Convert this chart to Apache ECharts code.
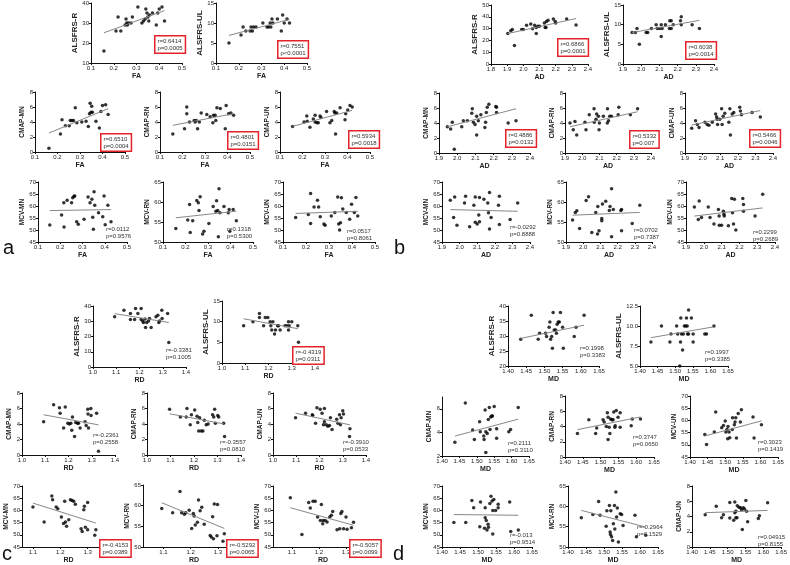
<!DOCTYPE html>
<html>
<head>
<meta charset="utf-8">
<script src="https://cdn.jsdelivr.net/npm/echarts@6/dist/echarts.min.js"></script>
<style>
  html, body { margin: 0; padding: 0; background: #fff; }
  #chart { width: 790px; height: 565px; }
</style>
</head>
<body>
<div id="chart"></div>
<script>
// ---- tick labels ----
const faTicks = [0.1, 0.2, 0.3, 0.4, 0.5]
const adTicksLong = [1.8, 1.9, 2.0, 2.1, 2.2, 2.3, 2.4]
const adTicks = [1.9, 2.0, 2.1, 2.2, 2.3, 2.4]
const rdTicks = [1.0, 1.1, 1.2, 1.3, 1.4]
const rdTicksShort = [1.1, 1.2, 1.3, 1.4]
const mdTicks = [1.40, 1.45, 1.50, 1.55, 1.60, 1.65]
const alsfrsRTicks = [10, 20, 30, 40]
const alsfrsRTicks0 = [0, 10, 20, 30, 40]
const alsfrsRTicks50 = [0, 10, 20, 30, 40, 50]
const alsfrsRTicks20 = [20, 25, 30, 35, 40]
const ulTicks = [0, 5, 10, 15]
const ulTicksMd = [5.0, 7.5, 10.0, 12.5]
const cmapTicks = [0, 2, 4, 6, 8]
const cmapTicksMd = [2, 4, 6]
const mcvTicks = [45, 50, 55, 60, 65, 70]
const mcvTicksRN = [50, 55, 60, 65]

// ---- panel a : FA ----
const faAlsfrsR = [[0.157,16],[0.21,26],[0.219,33],[0.231,26],[0.25,29],[0.254,32],[0.257,30],[0.26,29],[0.265,30],[0.276,30],[0.282,33],[0.306,38],[0.324,30],[0.331,31],[0.338,32],[0.341,37],[0.346,35],[0.35,33],[0.354,31],[0.357,34],[0.37,35],[0.387,29],[0.393,35],[0.4,37],[0.412,38],[0.423,31]]
const faAlsfrsRFit = [[0.157,25.1],[0.423,36.2]]
const faAlsfrsUL = [[0.157,5],[0.21,7],[0.219,9],[0.231,8],[0.25,8],[0.254,9],[0.26,8],[0.265,9],[0.276,9],[0.306,10],[0.324,9],[0.331,9],[0.338,10],[0.341,9],[0.346,11],[0.35,10],[0.37,11],[0.387,8],[0.393,12],[0.4,10],[0.412,11],[0.423,10]]
const faAlsfrsULFit = [[0.157,6.9],[0.423,10.9]]
const faCmapMN = [[0.162,0.5],[0.213,2.4],[0.22,4.3],[0.235,3.5],[0.252,3.5],[0.257,4.2],[0.264,4.2],[0.271,4.2],[0.279,5.9],[0.286,3.9],[0.308,4.0],[0.327,4.1],[0.337,3.4],[0.342,5.1],[0.345,6.5],[0.349,5.3],[0.352,6.1],[0.355,5.3],[0.371,4.1],[0.386,3.2],[0.393,5.4],[0.4,6.2],[0.414,6.3],[0.425,5.0]]
const faCmapMNFit = [[0.162,2.53],[0.425,5.78]]
const faCmapRN = [[0.157,2.4],[0.209,3.1],[0.219,6.0],[0.219,5.1],[0.231,4.0],[0.252,4.2],[0.256,4.0],[0.261,4.2],[0.267,3.1],[0.275,4.0],[0.283,5.2],[0.308,5.0],[0.323,4.7],[0.335,3.9],[0.338,4.9],[0.345,4.9],[0.348,4.2],[0.353,5.9],[0.368,5.8],[0.39,3.1],[0.394,6.2],[0.405,5.1],[0.415,5.2],[0.427,4.9]]
const faCmapRNFit = [[0.157,3.56],[0.427,5.11]]
const faCmapUN = [[0.156,3.4],[0.207,4.0],[0.219,4.8],[0.221,4.1],[0.233,3.3],[0.248,4.4],[0.256,4.9],[0.256,4.0],[0.264,3.9],[0.27,3.9],[0.278,4.8],[0.282,4.6],[0.307,5.4],[0.322,3.9],[0.33,4.2],[0.341,5.4],[0.344,5.2],[0.347,2.4],[0.352,5.2],[0.367,5.9],[0.389,4.3],[0.392,5.1],[0.401,5.6],[0.411,6.2],[0.421,6.0]]
const faCmapUNFit = [[0.156,3.42],[0.421,5.55]]
const faMcvMN = [[0.153,52.1],[0.206,56.2],[0.216,61.4],[0.217,51.3],[0.231,62.4],[0.251,61.4],[0.256,63.4],[0.262,64.1],[0.265,64.2],[0.274,53.4],[0.281,52.4],[0.307,54.5],[0.325,63.8],[0.334,61.4],[0.342,62.8],[0.346,55.3],[0.349,50.3],[0.352,65.9],[0.355,60.3],[0.372,57.2],[0.391,55.5],[0.397,64.2],[0.402,52.2],[0.414,60.3],[0.428,53.4]]
const faMcvMNFit = [[0.153,58.1],[0.428,58.5]]
const faMcvRN = [[0.157,53.4],[0.21,55.5],[0.218,59.4],[0.221,52.4],[0.232,55.3],[0.25,60.4],[0.257,59.8],[0.26,57.9],[0.265,61.3],[0.276,52.0],[0.282,52.7],[0.304,54.6],[0.323,58.9],[0.335,57.7],[0.338,60.3],[0.343,57.9],[0.346,51.3],[0.349,63.3],[0.353,57.3],[0.371,58.9],[0.39,57.3],[0.394,58.1],[0.397,52.7],[0.412,58.1],[0.426,55.3]]
const faMcvRNFit = [[0.157,56.05],[0.426,57.7]]
const faMcvUN = [[0.155,55.2],[0.21,56.5],[0.22,65.2],[0.22,52.7],[0.235,59.6],[0.25,62.4],[0.255,59.6],[0.262,55.5],[0.278,52.5],[0.283,52.0],[0.31,55.8],[0.325,57.3],[0.338,63.8],[0.342,52.5],[0.346,50.0],[0.35,53.0],[0.354,63.4],[0.36,58.7],[0.375,57.3],[0.39,54.5],[0.398,60.7],[0.41,57.3],[0.417,63.5],[0.425,55.8]]
const faMcvUNFit = [[0.155,56.9],[0.425,57.8]]

// ---- panel b : AD ----
const adAlsfrsR = [[1.904,25.8],[1.922,28.1],[1.932,29.2],[1.945,15.7],[1.99,29.2],[2.0,29.2],[2.02,32.9],[2.046,34],[2.057,29.8],[2.07,32.9],[2.08,25.8],[2.08,30.9],[2.09,32],[2.1,32],[2.13,34.8],[2.135,30.9],[2.14,30.9],[2.143,36],[2.153,37],[2.186,38.2],[2.197,36],[2.2,34.8],[2.268,38.2],[2.326,33.1]]
const adAlsfrsRFit = [[1.904,25.8],[2.326,38.5]]
const adAlsfrsUL = [[1.95,8],[1.968,8],[1.977,9],[1.99,5],[2.027,8],[2.036,8],[2.056,9],[2.082,10],[2.088,9],[2.1,9],[2.11,7],[2.11,10],[2.115,9],[2.133,10],[2.155,9],[2.157,11],[2.165,11],[2.165,9],[2.176,10],[2.216,11],[2.22,12],[2.22,10],[2.28,10],[2.32,9]]
const adAlsfrsULFit = [[1.95,8.0],[2.32,11.1]]
const adCmapMN = [[1.946,3.5],[1.964,3.2],[1.973,4.1],[1.984,0.5],[2.025,3.5],[2.034,4.3],[2.056,4.3],[2.08,5.3],[2.083,5.9],[2.089,4.1],[2.098,3.8],[2.107,4.9],[2.107,2.4],[2.116,4.3],[2.13,5.1],[2.152,3.4],[2.156,4.1],[2.16,5.4],[2.165,6.1],[2.174,6.5],[2.212,6.2],[2.216,6.1],[2.216,5.4],[2.28,4.0],[2.323,4.3]]
const adCmapMNFit = [[1.946,3.5],[2.323,5.9]]
const adCmapRN = [[1.929,4.0],[1.948,3.1],[1.958,4.2],[1.968,2.4],[2.016,4.1],[2.022,3.1],[2.041,5.1],[2.069,5.9],[2.07,4.1],[2.08,4.5],[2.084,5.2],[2.094,4.9],[2.098,3.1],[2.1,4.0],[2.123,4.9],[2.146,4.0],[2.147,5.9],[2.153,4.3],[2.16,4.9],[2.17,4.9],[2.209,5.1],[2.213,6.1],[2.28,5.1],[2.322,5.9]]
const adCmapRNFit = [[1.929,3.5],[2.322,5.5]]
const adCmapUN = [[1.938,3.3],[1.96,4.3],[1.97,3.8],[1.98,3.4],[2.013,4.1],[2.026,3.8],[2.036,3.7],[2.055,4.1],[2.074,5.2],[2.08,4.8],[2.083,4.5],[2.085,3.8],[2.098,4.5],[2.108,5.9],[2.111,3.8],[2.117,4.9],[2.126,5.3],[2.149,4.1],[2.155,5.9],[2.158,2.4],[2.168,5.2],[2.177,5.4],[2.211,6.1],[2.215,5.6],[2.221,5.1],[2.281,5.4],[2.328,4.8]]
const adCmapUNFit = [[1.938,3.73],[2.328,5.66]]
const adMcvMN = [[1.947,62.4],[1.966,55.2],[1.972,63.8],[1.985,52.0],[2.028,61.3],[2.034,64.1],[2.057,51.4],[2.081,60.3],[2.089,63.8],[2.089,53.2],[2.1,52.5],[2.109,56.2],[2.113,63.5],[2.113,53.4],[2.138,62.8],[2.16,61.3],[2.164,57.2],[2.17,65.6],[2.17,50.4],[2.179,55.2],[2.221,60.3],[2.226,64.1],[2.226,52.3],[2.287,54.4],[2.33,61.3]]
const adMcvMNFit = [[1.947,58.5],[2.33,57.8]]
const adMcvRN = [[1.938,55.5],[1.954,57.4],[1.963,57.8],[1.979,53.4],[2.017,60.4],[2.031,61.3],[2.05,52.4],[2.073,57.4],[2.083,52.0],[2.085,58.9],[2.092,52.8],[2.108,55.9],[2.108,55.3],[2.112,59.5],[2.131,60.2],[2.152,57.9],[2.156,58.9],[2.165,63.3],[2.165,51.3],[2.175,58.1],[2.219,57.9],[2.223,58.1],[2.223,52.8],[2.285,54.6],[2.329,59.2]]
const adMcvRNFit = [[1.938,56.7],[2.329,57.4]]
const adMcvUN = [[1.947,59.6],[1.969,54.4],[1.974,62.1],[1.987,55.2],[2.025,59.6],[2.035,55.2],[2.057,52.5],[2.082,58.5],[2.086,55.8],[2.087,52.0],[2.1,52.0],[2.11,57.8],[2.113,56.6],[2.115,55.8],[2.138,51.8],[2.157,63.1],[2.161,57.2],[2.167,52.5],[2.172,62.8],[2.18,50.0],[2.219,63.1],[2.223,60.6],[2.223,57.8],[2.288,55.8],[2.331,64.9]]
const adMcvUNFit = [[1.947,55.8],[2.331,59.2]]

// ---- panel c : RD ----
const rdAlsfrsR = [[1.093,32.9],[1.133,37.2],[1.161,35.1],[1.161,31.1],[1.179,31.1],[1.183,38.3],[1.193,35.1],[1.207,38.3],[1.207,31.1],[1.214,30.1],[1.217,29.2],[1.224,31.4],[1.226,25.9],[1.231,29.2],[1.239,30.1],[1.243,31.8],[1.25,25.9],[1.271,32.9],[1.279,34.0],[1.283,29.2],[1.286,30.1],[1.296,37.2],[1.297,31.8],[1.321,35.1],[1.326,16.0]]
const rdAlsfrsRFit = [[1.093,35.0],[1.326,29.2]]
const rdAlsfrsUL = [[1.093,9],[1.133,10],[1.161,11],[1.161,12],[1.179,9],[1.186,11],[1.197,11],[1.207,10],[1.21,9],[1.214,8],[1.219,10],[1.226,7],[1.23,8],[1.239,9],[1.243,9],[1.25,8],[1.271,9],[1.279,9],[1.286,10],[1.286,8],[1.289,9],[1.3,10],[1.326,9],[1.329,5]]
const rdAlsfrsULFit = [[1.093,10.7],[1.326,8.3]]
const rdCmapMN = [[1.093,4.3],[1.136,6.5],[1.161,6.1],[1.164,5.4],[1.179,3.5],[1.186,6.2],[1.197,4.1],[1.204,4.0],[1.21,4.1],[1.214,3.2],[1.217,4.9],[1.226,2.4],[1.231,4.2],[1.239,4.1],[1.243,4.1],[1.25,3.5],[1.271,4.3],[1.276,3.8],[1.283,5.9],[1.284,5.3],[1.286,3.5],[1.296,6.0],[1.297,5.1],[1.321,5.4],[1.329,0.5]]
const rdCmapMNFit = [[1.093,5.19],[1.329,3.89]]
const rdCmapRN = [[1.096,5.9],[1.142,4.9],[1.167,4.9],[1.17,6.0],[1.184,3.9],[1.189,5.2],[1.203,5.8],[1.213,5.0],[1.216,4.2],[1.22,3.1],[1.224,4.8],[1.231,3.1],[1.238,3.1],[1.244,4.5],[1.252,3.9],[1.26,4.0],[1.279,5.2],[1.284,4.9],[1.288,5.9],[1.291,4.1],[1.301,5.1],[1.305,4.9],[1.326,4.1],[1.33,2.4]]
const rdCmapRNFit = [[1.096,5.32],[1.326,4.02]]
const rdCmapUN = [[1.097,4.8],[1.14,5.4],[1.169,5.2],[1.171,5.1],[1.183,4.1],[1.189,6.1],[1.203,5.9],[1.211,5.4],[1.217,3.9],[1.221,6.0],[1.221,4.3],[1.229,3.9],[1.236,3.7],[1.243,3.8],[1.247,4.8],[1.254,3.3],[1.274,4.6],[1.279,4.1],[1.286,5.2],[1.29,3.9],[1.293,4.8],[1.3,5.7],[1.303,5.3],[1.329,2.4],[1.331,3.4]]
const rdCmapUNFit = [[1.097,5.4],[1.331,3.89]]
const rdMcvMN = [[1.1,61.4],[1.141,55.2],[1.169,65.9],[1.172,64.4],[1.185,61.4],[1.191,60.7],[1.204,57.3],[1.212,54.6],[1.216,63.7],[1.219,55.2],[1.223,53.5],[1.231,56.2],[1.237,64.4],[1.243,64.1],[1.249,63.7],[1.255,62.5],[1.276,52.5],[1.28,51.4],[1.286,60.3],[1.288,61.7],[1.292,53.1],[1.3,63.2],[1.3,52.1],[1.326,49.8],[1.33,52.1]]
const rdMcvMNFit = [[1.1,63.0],[1.33,54.8]]
const rdMcvRN = [[1.094,59.3],[1.134,58.3],[1.161,63.4],[1.167,58.3],[1.177,57.9],[1.182,58.3],[1.195,58.9],[1.204,54.5],[1.21,58.1],[1.213,57.5],[1.217,55.3],[1.225,56.0],[1.229,61.4],[1.235,58.8],[1.241,59.6],[1.25,55.5],[1.272,52.8],[1.276,52.4],[1.281,57.3],[1.284,52.0],[1.287,60.4],[1.297,52.7],[1.299,60.3],[1.319,51.4],[1.324,53.2]]
const rdMcvRNFit = [[1.094,60.7],[1.324,54.5]]
const rdMcvUN = [[1.094,65.2],[1.137,50.1],[1.162,63.2],[1.168,61.0],[1.178,63.7],[1.186,63.7],[1.195,57.3],[1.205,55.9],[1.209,62.4],[1.214,54.5],[1.215,55.9],[1.223,55.9],[1.23,55.2],[1.24,57.3],[1.246,58.0],[1.251,59.6],[1.267,52.1],[1.277,52.5],[1.281,58.7],[1.285,59.6],[1.291,52.5],[1.3,57.3],[1.304,52.3],[1.32,52.9],[1.328,55.1]]
const rdMcvUNFit = [[1.094,61.1],[1.328,53.9]]

// ---- panel d : MD ----
const mdAlsfrsR = [[1.435,28.9],[1.464,36.9],[1.483,28.9],[1.487,30.9],[1.503,30.9],[1.506,29.8],[1.513,32.9],[1.515,34.7],[1.517,28.9],[1.52,29.8],[1.522,25.9],[1.524,37.8],[1.527,32.0],[1.531,32.0],[1.533,30.9],[1.535,33.9],[1.538,34.7],[1.541,34.7],[1.544,37.8],[1.55,32.9],[1.552,25.9],[1.582,29.8],[1.587,32.9],[1.609,36.9]]
const mdAlsfrsRFit = [[1.435,29.2],[1.609,33.6]]
const mdAlsfrsUL = [[1.431,8],[1.461,10],[1.485,8],[1.488,9],[1.504,10],[1.507,9],[1.513,5],[1.515,8],[1.516,11],[1.518,9],[1.521,7],[1.523,9],[1.526,10],[1.53,10],[1.532,11],[1.534,10],[1.535,9],[1.538,9],[1.538,12],[1.546,11],[1.551,9],[1.551,8],[1.584,9],[1.589,9],[1.61,10]]
const mdAlsfrsULFit = [[1.431,8.54],[1.61,9.9]]
const mdCmapMN = [[1.437,3.16],[1.467,6.5],[1.488,4.2],[1.493,3.4],[1.508,4.9],[1.51,4.05],[1.52,3.7],[1.521,3.4],[1.524,5.9],[1.526,4.05],[1.526,2.3],[1.53,3.9],[1.533,5.1],[1.536,6.1],[1.538,4.25],[1.54,5.3],[1.543,5.4],[1.545,5.4],[1.55,6.2],[1.557,4.3],[1.557,3.5],[1.592,4.05],[1.597,4.25],[1.619,6.1]]
const mdCmapMNFit = [[1.437,3.69],[1.619,5.12]]
const mdCmapRN = [[1.435,3.07],[1.467,4.9],[1.486,3.07],[1.489,3.8],[1.507,4.9],[1.51,4.6],[1.516,4.0],[1.519,5.8],[1.521,5.2],[1.521,2.3],[1.524,3.9],[1.526,3.07],[1.528,5.0],[1.532,4.9],[1.535,4.9],[1.537,5.9],[1.54,3.9],[1.541,4.1],[1.544,6.1],[1.549,5.2],[1.555,5.8],[1.555,3.9],[1.586,4.1],[1.589,5.0],[1.612,5.0]]
const mdCmapRNFit = [[1.435,3.59],[1.612,5.25]]
const mdMcvUN = [[1.442,54.2],[1.447,50.1],[1.469,55.2],[1.473,63.4],[1.49,57.0],[1.495,57.9],[1.5,59.8],[1.502,55.2],[1.505,56.3],[1.507,52.5],[1.508,57.5],[1.511,55.2],[1.513,52.9],[1.52,56.3],[1.521,61.1],[1.526,58.2],[1.528,59.3],[1.53,61.1],[1.532,52.8],[1.537,62.8],[1.543,59.3],[1.546,64.4],[1.579,61.4],[1.582,52.8],[1.603,58.2]]
const mdMcvUNFit = [[1.442,53.6],[1.603,59.8]]
const mdMcvMN = [[1.433,55.0],[1.466,55.0],[1.483,64.1],[1.488,61.1],[1.505,53.3],[1.507,63.4],[1.518,52.7],[1.52,61.1],[1.52,57.0],[1.523,55.9],[1.525,52.0],[1.528,54.3],[1.529,53.1],[1.533,62.8],[1.536,65.8],[1.539,63.9],[1.541,60.0],[1.541,50.3],[1.544,64.5],[1.549,60.0],[1.556,62.5],[1.556,61.1],[1.588,63.4],[1.591,51.4],[1.612,52.0]]
const mdMcvMNFit = [[1.433,58.3],[1.612,58.0]]
const mdMcvRN = [[1.437,57.2],[1.469,58.0],[1.485,61.2],[1.489,57.8],[1.506,55.1],[1.508,58.9],[1.515,60.2],[1.517,53.7],[1.518,53.1],[1.519,58.9],[1.521,52.5],[1.524,51.6],[1.526,55.7],[1.529,60.2],[1.53,54.4],[1.533,63.5],[1.535,57.4],[1.537,59.6],[1.54,51.2],[1.545,58.2],[1.549,58.0],[1.553,55.3],[1.586,57.8],[1.59,52.5],[1.616,52.9]]
const mdMcvRNFit = [[1.437,59.0],[1.616,54.9]]
const mdCmapUN = [[1.437,4.24],[1.468,5.34],[1.483,3.85],[1.488,4.24],[1.506,5.83],[1.506,3.8],[1.517,3.5],[1.52,5.9],[1.52,4.5],[1.523,4.7],[1.523,3.85],[1.526,3.85],[1.527,5.4],[1.532,5.2],[1.536,5.15],[1.539,4.9],[1.541,2.3],[1.544,5.15],[1.547,5.0],[1.551,6.1],[1.553,4.7],[1.556,3.3],[1.586,3.75],[1.589,4.1],[1.612,5.8]]
const mdCmapUNFit = [[1.437,4.5],[1.612,4.8]]

// ---- layout: one entry per small plot ----
const RED = '#e3222a'
const plots = [
  // panel a
  { rect: [91, 2, 91, 61], x: faTicks, y: alsfrsRTicks, xName: 'FA', yName: 'ALSFRS-R', big: true, data: faAlsfrsR, fit: faAlsfrsRFit, stat: 'r=0.6414\np=0.0005', at: [154, 35], box: true },
  { rect: [216, 2, 91, 61], x: faTicks, y: ulTicks, xName: 'FA', yName: 'ALSFRS-UL', big: true, data: faAlsfrsUL, fit: faAlsfrsULFit, stat: 'r=0.7551\np<0.0001', at: [277, 40], box: true },
  { rect: [35, 92, 90, 60], x: faTicks, y: cmapTicks, xName: 'FA', yName: 'CMAP-MN', data: faCmapMN, fit: faCmapMNFit, stat: 'r=0.6510\np=0.0004', at: [100, 133], box: true },
  { rect: [160, 92, 90, 60], x: faTicks, y: cmapTicks, xName: 'FA', yName: 'CMAP-RN', data: faCmapRN, fit: faCmapRNFit, stat: 'r=0.4801\np=0.0151', at: [227, 131], box: true },
  { rect: [280, 92, 90, 60], x: faTicks, y: cmapTicks, xName: 'FA', yName: 'CMAP-UN', data: faCmapUN, fit: faCmapUNFit, stat: 'r=0.5934\np=0.0018', at: [348, 130], box: true },
  { rect: [38, 182, 89, 60], x: faTicks, y: mcvTicks, xName: 'FA', yName: 'MCV-MN', data: faMcvMN, fit: faMcvMNFit, stat: 'r=0.0112\np=0.9576', at: [106, 226] },
  { rect: [163, 182, 90, 60], x: faTicks, y: mcvTicksRN, xName: 'FA', yName: 'MCV-RN', data: faMcvRN, fit: faMcvRNFit, stat: 'r=0.1318\np=0.5300', at: [227, 226] },
  { rect: [283, 182, 92, 60], x: faTicks, y: mcvTicks, xName: 'FA', yName: 'MCV-UN', data: faMcvUN, fit: faMcvUNFit, stat: 'r=0.0517\np=0.8061', at: [347, 228] },
  // panel b
  { rect: [491, 5, 97, 59], x: adTicksLong, y: alsfrsRTicks50, xName: 'AD', yName: 'ALSFRS-R', big: true, data: adAlsfrsR, fit: adAlsfrsRFit, stat: 'r=0.6866\np=0.0001', at: [557, 38], box: true },
  { rect: [623, 5, 91, 59], x: adTicks, y: ulTicks, xName: 'AD', yName: 'ALSFRS-UL', big: true, data: adAlsfrsUL, fit: adAlsfrsULFit, stat: 'r=0.6038\np=0.0014', at: [685, 41], box: true },
  { rect: [439, 93, 91, 60], x: adTicks, y: cmapTicks, xName: 'AD', yName: 'CMAP-MN', data: adCmapMN, fit: adCmapMNFit, stat: 'r=0.4886\np=0.0132', at: [505, 129], box: true },
  { rect: [565, 93, 86, 60], x: adTicks, y: cmapTicks, xName: 'AD', yName: 'CMAP-RN', data: adCmapRN, fit: adCmapRNFit, stat: 'r=0.5332\np=0.007', at: [629, 130], box: true },
  { rect: [685, 93, 88, 60], x: adTicks, y: cmapTicks, xName: 'AD', yName: 'CMAP-UN', data: adCmapUN, fit: adCmapUNFit, stat: 'r=0.5466\np=0.0046', at: [749, 129], box: true },
  { rect: [442, 182, 88, 60], x: adTicks, y: mcvTicks, xName: 'AD', yName: 'MCV-MN', data: adMcvMN, fit: adMcvMNFit, stat: 'r=-0.0292\np=0.8888', at: [510, 224] },
  { rect: [566, 182, 86, 60], x: adTicks, y: mcvTicksRN, xName: 'AD', yName: 'MCV-RN', data: adMcvRN, fit: adMcvRNFit, stat: 'r=0.0702\np=0.7387', at: [634, 227] },
  { rect: [686, 182, 89, 60], x: adTicks, y: mcvTicks, xName: 'AD', yName: 'MCV-UN', data: adMcvUN, fit: adMcvUNFit, stat: 'r=0.2299\np=0.2689', at: [753, 229] },
  // panel c
  { rect: [93, 306, 93, 61], x: rdTicks, y: alsfrsRTicks0, xName: 'RD', yName: 'ALSFRS-R', big: true, data: rdAlsfrsR, fit: rdAlsfrsRFit, stat: 'r=-0.3381\np=0.1005', at: [166, 347] },
  { rect: [222, 301, 93, 62], x: rdTicks, y: ulTicks, xName: 'RD', yName: 'ALSFRS-UL', big: true, data: rdAlsfrsUL, fit: rdAlsfrsULFit, stat: 'r=-0.4319\np=0.0311', at: [292, 346], box: true },
  { rect: [22, 393, 93, 62], x: rdTicks, y: cmapTicks, xName: 'RD', yName: 'CMAP-MN', data: rdCmapMN, fit: rdCmapMNFit, stat: 'r=-0.2361\np=0.2558', at: [93, 432] },
  { rect: [147, 393, 94, 62], x: rdTicks, y: cmapTicks, xName: 'RD', yName: 'CMAP-RN', data: rdCmapRN, fit: rdCmapRNFit, stat: 'r=-0.3557\np=0.0810', at: [220, 439] },
  { rect: [273, 393, 93, 62], x: rdTicks, y: cmapTicks, xName: 'RD', yName: 'CMAP-UN', data: rdCmapUN, fit: rdCmapUNFit, stat: 'r=-0.3910\np=0.0533', at: [343, 439] },
  { rect: [22, 486, 93, 61], x: rdTicksShort, xMin: 1.06, y: mcvTicks, xName: 'RD', yName: 'MCV-MN', data: rdMcvMN, fit: rdMcvMNFit, stat: 'r=-0.4153\np=0.0389', at: [99, 539], box: true },
  { rect: [143, 485, 102, 62], x: rdTicksShort, xMin: 1.025, y: mcvTicksRN, xName: 'RD', yName: 'MCV-RN', data: rdMcvRN, fit: rdMcvRNFit, stat: 'r=-0.5292\np=0.0065', at: [226, 539], box: true },
  { rect: [273, 486, 100, 61], x: rdTicksShort, xMin: 1.03, y: mcvTicks, xName: 'RD', yName: 'MCV-UN', data: rdMcvUN, fit: rdMcvUNFit, stat: 'r=-0.5057\np=0.0099', at: [349, 539], box: true },
  // panel d
  { rect: [508, 306, 91, 60], x: mdTicks, y: alsfrsRTicks20, xName: 'MD', yName: 'ALSFRS-R', big: true, data: mdAlsfrsR, fit: mdAlsfrsRFit, stat: 'r=0.1998\np=0.3383', at: [580, 345] },
  { rect: [640, 306, 88, 60], x: mdTicks, y: ulTicksMd, yDec: 1, xName: 'MD', yName: 'ALSFRS-UL', big: true, data: mdAlsfrsUL, fit: mdAlsfrsULFit, stat: 'r=0.1997\np=0.3385', at: [705, 349] },
  { rect: [442, 397, 87, 59], x: mdTicks, y: cmapTicksMd, yMax: 7, xName: 'MD', yName: 'CMAP-MN', data: mdCmapMN, fit: mdCmapMNFit, stat: 'r=0.2111\np=0.3110', at: [508, 440] },
  { rect: [565, 396, 89, 61], x: mdTicks, y: cmapTicks, xName: 'MD', yName: 'CMAP-RN', data: mdCmapRN, fit: mdCmapRNFit, stat: 'r=0.3747\np=0.0650', at: [633, 434] },
  { rect: [690, 396, 88, 61], x: mdTicks, y: mcvTicks, xName: 'MD', yName: 'MCV-UN', data: mdMcvUN, fit: mdMcvUNFit, stat: 'r=0.3023\np=0.1419', at: [758, 439] },
  { rect: [442, 486, 90, 61], x: mdTicks, y: mcvTicks, xName: 'MD', yName: 'MCV-MN', data: mdMcvMN, fit: mdMcvMNFit, stat: 'r=-0.013\np=0.9514', at: [510, 532] },
  { rect: [568, 486, 90, 61], x: mdTicks, y: mcvTicksRN, xName: 'MD', yName: 'MCV-RN', data: mdMcvRN, fit: mdMcvRNFit, stat: 'r=-0.2964\np=0.1529', at: [637, 524] },
  { rect: [692, 486, 90, 61], x: mdTicks, y: cmapTicks, xName: 'MD', yName: 'CMAP-UN', data: mdCmapUN, fit: mdCmapUNFit, stat: 'r=0.04915\np=0.8155', at: [758, 534] }
]

const panelLetters = [
  { text: 'a', at: [3, 238] },
  { text: 'b', at: [394, 238] },
  { text: 'c', at: [2, 544] },
  { text: 'd', at: [393, 544] }
]

const FONT = 'Arial, "Liberation Sans", sans-serif'
const decimals = (ticks) => Math.max(...ticks.map(t => (String(t).split('.')[1] || '').length))

const grid = []
const xAxis = []
const yAxis = []
const series = []
const graphic = []

plots.forEach((p, i) => {
  grid.push({ left: p.rect[0], top: p.rect[1], width: p.rect[2], height: p.rect[3] })

  const xDec = p.x === mdTicks ? 2 : 1
  const yDec = p.yDec != null ? p.yDec : decimals(p.y)
  // room for the widest y tick label
  const labelChars = Math.max(...p.y.map(v => v.toFixed(yDec).length))
  const yGap = labelChars * 3 + 2 + (p.big ? 1 : 0)

  const common = {
    type: 'value',
    axisLine: { onZero: false, lineStyle: { color: '#111', width: 1 } },
    axisTick: { show: true, length: 2, lineStyle: { color: '#111' } },
    splitLine: { show: false },
    nameTextStyle: { fontFamily: FONT, fontWeight: 'bold', color: '#222' }
  }

  xAxis.push({
    ...common,
    gridIndex: i,
    min: p.xMin != null ? p.xMin : p.x[0],
    max: p.x[p.x.length - 1],
    name: p.xName,
    nameLocation: 'middle',
    nameGap: 10,
    nameTextStyle: { ...common.nameTextStyle, fontSize: 7 },
    axisTick: { ...common.axisTick, customValues: p.x },
    axisLabel: {
      customValues: p.x,
      fontSize: 6,
      margin: 2,
      color: '#222',
      fontFamily: FONT,
      formatter: v => v.toFixed(xDec)
    }
  })

  yAxis.push({
    ...common,
    gridIndex: i,
    min: p.y[0],
    max: p.yMax != null ? p.yMax : p.y[p.y.length - 1],
    name: p.yName,
    nameLocation: 'middle',
    nameRotate: 90,
    nameGap: yGap,
    nameTextStyle: { ...common.nameTextStyle, fontSize: p.big ? 8 : 6.5 },
    axisTick: { ...common.axisTick, customValues: p.y },
    axisLabel: {
      customValues: p.y,
      fontSize: 6,
      margin: 2,
      color: '#222',
      fontFamily: FONT,
      formatter: v => v.toFixed(yDec)
    }
  })

  series.push({
    type: 'scatter',
    xAxisIndex: i,
    yAxisIndex: i,
    data: p.data,
    symbolSize: 3.5,
    itemStyle: { color: '#000' },
    silent: true
  })
  series.push({
    type: 'line',
    xAxisIndex: i,
    yAxisIndex: i,
    data: p.fit,
    showSymbol: false,
    lineStyle: { color: '#888', width: 1 },
    silent: true
  })

  graphic.push({
    type: 'text',
    left: p.at[0],
    top: p.at[1],
    z: 100,
    silent: true,
    style: {
      text: p.stat,
      fontSize: 6,
      lineHeight: 7,
      fontFamily: FONT,
      fill: '#333',
      backgroundColor: p.box ? '#fff' : 'transparent',
      borderColor: p.box ? RED : 'transparent',
      borderWidth: p.box ? 1.5 : 0,
      padding: p.box ? [1, 2] : 0
    }
  })
})

panelLetters.forEach(l => {
  graphic.push({
    type: 'text',
    left: l.at[0],
    top: l.at[1],
    z: 100,
    silent: true,
    style: { text: l.text, fontSize: 20, fontFamily: FONT, fill: '#111' }
  })
})

const chart = echarts.init(document.getElementById('chart'), null, { renderer: 'canvas' })
chart.setOption({
  animation: false,
  backgroundColor: '#fff',
  grid,
  xAxis,
  yAxis,
  series,
  graphic
})

window.addEventListener('resize', () => chart.resize())
</script>
</body>
</html>
